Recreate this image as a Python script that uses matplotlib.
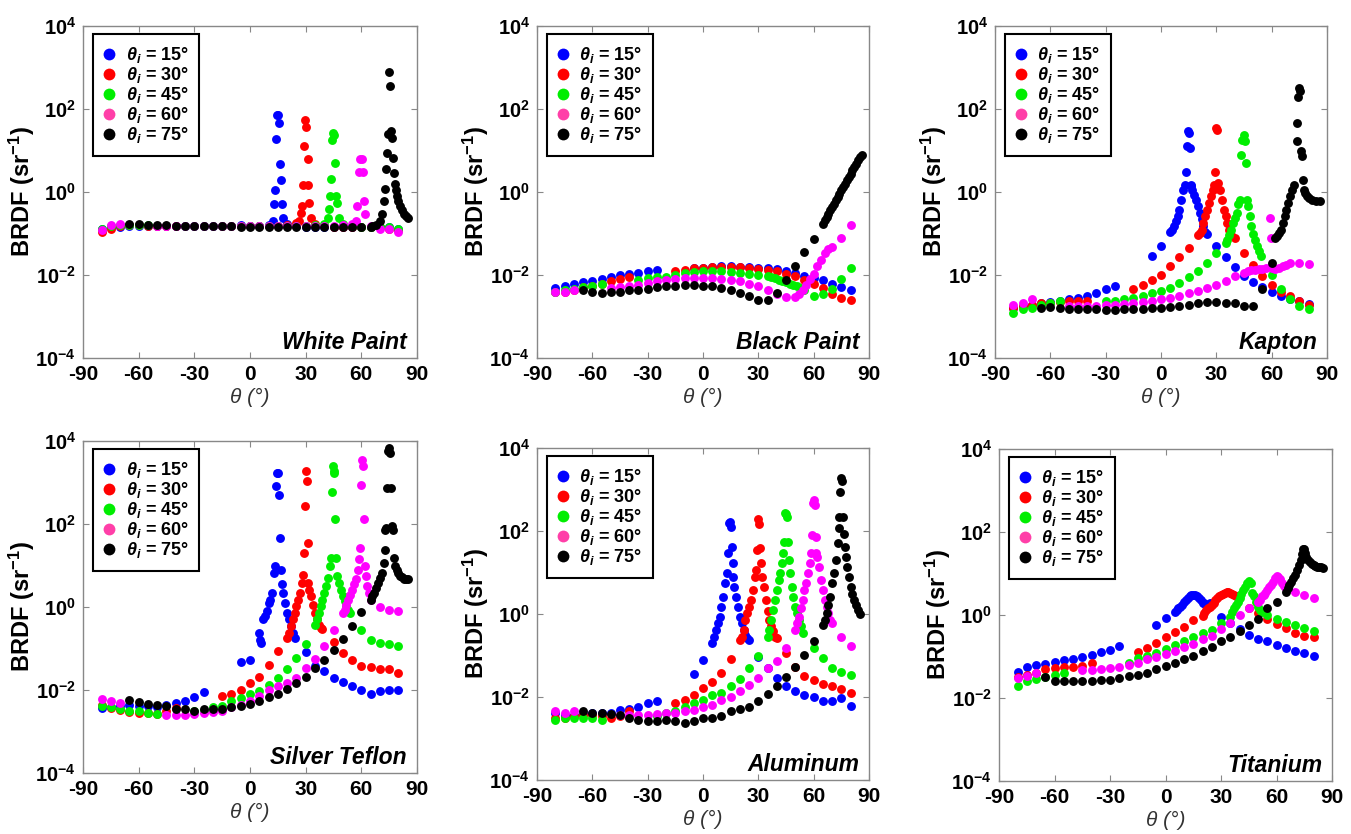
import matplotlib
matplotlib.use("Agg")
import matplotlib.pyplot as plt
from matplotlib.lines import Line2D
from matplotlib.ticker import FixedLocator, FixedFormatter, NullLocator

plt.rcParams['font.family'] = ['Liberation Sans', 'DejaVu Sans']
plt.rcParams['mathtext.fontset'] = 'custom'
plt.rcParams['mathtext.rm'] = 'Liberation Sans:bold'
plt.rcParams['mathtext.it'] = 'Liberation Sans:bold:italic'
plt.rcParams['mathtext.bf'] = 'Liberation Sans:bold'

# ---------------- White Paint ----------------
wp_x15 = [-80,-75,-70,-65,-60,-55,-50,-45,-40,-35,-30,-25,-20,-15,-10,-5,0,5,10,
          12.6,13,13.5,14,14.4,15.3,15.8,16.2,16.6,17,17.6,
          20,25,30,35,40,45,50,55,60,65,70,75,80]
wp_y15 = [0.13,0.14,0.14,0.15,0.15,0.15,0.15,0.15,0.15,0.15,0.15,0.15,0.15,0.15,0.15,0.16,0.15,0.15,0.16,
          0.20,0.50,1.1,19,73,73,46,4.7,2.0,0.50,0.24,
          0.17,0.15,0.14,0.14,0.14,0.14,0.14,0.14,0.14,0.14,0.14,0.14,0.13]
wp_x30 = [-80,-75,-70,-65,-60,-55,-50,-45,-40,
          -15,-10,-5,0,5,10,15,20,25,
          26.6,27.3,27.9,28.8,29.2,29.7,30.2,31,31.5,32,32.8,
          35,40,45,50,55,60,65,70,75,80]
wp_y30 = [0.11,0.13,0.15,0.16,0.16,0.15,0.15,0.15,0.15,
          0.15,0.15,0.15,0.15,0.15,0.15,0.15,0.16,0.18,
          0.20,0.31,0.45,1.5,13,55,36,6.3,1.5,0.54,0.24,
          0.17,0.15,0.14,0.14,0.14,0.14,0.14,0.14,0.13,0.12]
wp_x45 = [-80,-75,-70,-65,-60,-55,
          -35,-30,-25,-20,-15,-10,-5,0,5,10,15,20,25,30,35,40,
          42.3,42.8,43.2,43.7,44.3,44.6,45.5,45.9,46.4,46.8,47.7,
          50,55,60,65,70,75,80]
wp_y45 = [0.13,0.15,0.16,0.16,0.16,0.16,
          0.15,0.15,0.15,0.15,0.15,0.15,0.15,0.15,0.15,0.15,0.15,0.15,0.15,0.15,0.16,0.17,
          0.23,0.39,0.8,2.1,18,26,24,5.0,0.8,0.54,0.23,
          0.17,0.15,0.14,0.14,0.14,0.14,0.13]
wp_x60 = [-80,-75,-70,
          -50,-45,-40,-35,-30,-25,-20,-15,-10,-5,0,5,10,15,20,25,30,35,40,45,50,55,
          57.2,57.9,59,59.4,60.3,60.8,61.5,62.1,
          65,70,75,80]
wp_y60 = [0.12,0.16,0.17,
          0.15,0.15,0.15,0.15,0.15,0.15,0.15,0.15,0.15,0.15,0.15,0.15,0.15,0.15,0.15,0.15,0.15,0.15,0.15,0.15,0.16,0.17,
          0.20,0.45,3.0,6.3,6.3,3.0,0.6,0.3,
          0.15,0.13,0.13,0.11]
wp_x75 = [-65,-60,-55,-50,-45,-40,-35,-30,-25,-20,-15,-10,-5,0,5,10,15,20,25,30,35,40,45,50,55,60,65,
          66,68,70,71,72,73,73.5,74,74.5,75,75.5,76,76.5,77,77.5,78,78.5,79,80,81,82,83,84,85]
wp_y75 = [0.17,0.17,0.16,0.16,0.16,0.15,0.15,0.15,0.15,0.15,0.15,0.15,0.14,0.14,0.14,0.14,0.14,0.14,0.14,0.14,0.14,0.14,0.14,0.14,0.14,0.14,0.14,
          0.15,0.16,0.20,0.30,0.60,1.2,3.5,8.5,25,800,350,30,20,6.5,2.9,1.6,1.1,0.8,0.6,0.45,0.36,0.3,0.26,0.23]

# ---------------- Black Paint ----------------
bp_x15 = [-80,-75,-70,-65,-60,-55,-50,-45,-40,-35,-30,-25,
          -5,0,5,10,15,20,25,30,35,40,45,50,55,60,65,70,75,80]
bp_y15 = [0.0048,0.0055,0.0062,0.0066,0.0072,0.0079,0.0089,0.0100,0.0107,0.0112,0.0123,0.0129,
          0.0145,0.0151,0.0158,0.0162,0.0162,0.0158,0.0155,0.0148,0.0145,0.0138,0.0128,0.0112,0.0095,0.0085,0.0074,0.0062,0.0051,0.0043]
bp_x30 = [-80,-75,-70,-65,-60,-55,-50,-45,-40,
          -15,-10,-5,0,5,10,15,20,25,30,35,40,45,50,55,60,65,70,75,80]
bp_y30 = [0.0038,0.0040,0.0044,0.0051,0.0055,0.0062,0.0071,0.0080,0.0089,
          0.0123,0.0134,0.0144,0.0148,0.0152,0.0155,0.0155,0.0152,0.0144,0.0139,0.0134,0.0123,0.0107,0.0096,0.0077,0.0062,0.0048,0.0035,0.0028,0.0025]
bp_x45 = [-80,-75,-70,-65,-60,-55,
          -35,-30,-25,-20,-15,-10,-5,0,5,10,15,20,25,30,35,
          37,39,41,43,45,47,49,51,53,55,
          60,65,70,75,80]
bp_y45 = [0.0040,0.0044,0.0046,0.0051,0.0055,0.0062,
          0.0077,0.0085,0.0089,0.0092,0.0101,0.0112,0.0116,0.0123,0.0123,0.0123,0.0116,0.0112,0.0107,0.0101,0.0096,
          0.0089,0.0083,0.0077,0.0071,0.0067,0.0062,0.0057,0.0053,0.0048,0.0043,
          0.0032,0.0035,0.0046,0.0080,0.0148]
bp_x60 = [-80,-75,-70,
          -50,-45,-40,-35,-30,-25,-20,-15,-10,-5,0,5,10,15,20,25,30,35,40,45,50,
          52,54,56,58,60,62,64,66,68,70,
          75,80]
bp_y60 = [0.0038,0.0039,0.0043,
          0.0049,0.0052,0.0053,0.0057,0.0064,0.0071,0.0074,0.0080,0.0085,0.0085,0.0085,0.0085,0.0080,0.0077,0.0071,0.0062,0.0055,0.0043,0.0034,0.0030,0.0029,
          0.0034,0.0044,0.0058,0.0080,0.0107,0.0161,0.0234,0.033,0.042,0.047,
          0.078,0.158]
bp_x75 = [-65,-60,-55,-50,-45,-40,-35,-30,-25,-20,-15,-10,-5,0,5,10,15,20,25,30,35,40,45,50,55,60,
          65,66,67,68,69,70,71,72,73,74,75,76,77,78,79,80,81,82,83,84,85,86]
bp_y75 = [0.0044,0.0040,0.0037,0.0038,0.0040,0.0043,0.0044,0.0046,0.0051,0.0053,0.0055,0.0057,0.0056,0.0055,0.0053,0.0048,0.0043,0.0037,0.0032,0.0025,0.0025,0.0037,0.0077,0.0166,0.036,0.075,
          0.17,0.21,0.25,0.30,0.36,0.44,0.52,0.63,0.76,0.91,1.10,1.32,1.58,1.9,2.3,2.75,3.3,4.0,4.8,5.75,6.9,7.6]

# ---------------- Kapton ----------------
kp_x15 = [-80,-75,-70,-65,-60,-55,-50,-45,-40,-35,-30,-25,
          -5,0,5,6,7,8,9,10,11,12,13,13.5,14,14.5,15,15.5,16,16.5,17,18,19,20,21,22,23,24,25,
          30,35,40,45,50,55,60,65,70,75,80]
kp_y15 = [0.0016,0.0018,0.0019,0.0021,0.0022,0.0023,0.0026,0.0028,0.0032,0.0037,0.0045,0.0055,
          0.028,0.049,0.11,0.12,0.15,0.20,0.26,0.37,0.65,1.14,1.5,3.1,12.6,29,26,11.5,1.5,1.37,1.14,0.86,0.65,0.45,0.31,0.22,0.15,0.11,0.10,
          0.049,0.027,0.0154,0.0097,0.0067,0.0052,0.0040,0.0031,0.0027,0.0023,0.0020]
kp_x30 = [-80,-75,-70,-65,-60,-55,-50,-45,-40,
          -15,-10,-5,0,5,10,15,20,21,22,23,24,25,26,27,28,29,29.5,30,30.5,31,32,33,34,35,36,37,38,
          40,45,50,55,60,65,70,75,80]
kp_y30 = [0.0016,0.0018,0.0019,0.0021,0.0021,0.0022,0.0023,0.0023,0.0023,
          0.0046,0.0059,0.0075,0.0102,0.0162,0.027,0.045,0.094,0.103,0.124,0.18,0.26,0.37,0.54,0.79,1.14,1.5,3.1,35,32,1.65,1.14,0.65,0.37,0.26,0.18,0.124,0.094,
          0.078,0.033,0.017,0.0093,0.0059,0.0038,0.0031,0.0023,0.0019]
kp_x45 = [-80,-75,-70,-65,-60,-55,
          -30,-25,-20,-15,-10,-5,0,5,10,15,20,25,30,35,
          36,37,38,39,40,41,42,43,
          43.5,44,45,45.5,46,46.5,
          47,48,49,50,51,52,53,54,
          60,65,70,75,80]
kp_y45 = [0.0012,0.0015,0.0016,0.0019,0.0021,0.0023,
          0.0023,0.0023,0.0026,0.0028,0.0032,0.0037,0.0041,0.0049,0.0064,0.0090,0.0123,0.0195,0.033,0.059,
          0.071,0.094,0.124,0.18,0.24,0.31,0.50,0.65,
          7.9,18,24,16.5,5.0,0.65,
          0.45,0.26,0.15,0.10,0.071,0.049,0.037,0.029,
          0.0102,0.0045,0.0026,0.0018,0.0015]
kp_x60 = [-80,-75,-70,
          -50,-45,-40,-35,-30,-25,-20,-15,-10,-5,0,5,10,15,20,25,30,35,40,45,
          47,49,51,53,55,57,59,59.5,60,62,64,66,68,70,
          75,80]
kp_y60 = [0.0019,0.0021,0.0026,
          0.0018,0.0018,0.0018,0.0018,0.0019,0.0019,0.0020,0.0021,0.0022,0.0023,0.0026,0.0028,0.0032,0.0037,0.0042,0.0049,0.0059,0.0071,0.0097,0.0112,
          0.0123,0.0130,0.0135,0.0140,0.0140,0.0148,0.24,0.078,0.0148,0.0140,0.0148,0.0162,0.0178,0.0195,
          0.0195,0.0187]
kp_x75 = [-65,-60,-55,-50,-45,-40,-35,-30,-25,-20,-15,-10,-5,0,5,10,15,20,25,30,35,40,45,50,55,60,
          62,63,64,65,66,67,68,69,70,71,72,
          73.5,74,74.5,75,75.5,76,76.5,77,77.5,78,
          79,80,82,84,86]
kp_y75 = [0.0016,0.0017,0.0016,0.0015,0.0015,0.0015,0.0015,0.0014,0.0014,0.0015,0.0015,0.0015,0.0016,0.0016,0.0017,0.0018,0.0019,0.0021,0.0022,0.0022,0.0021,0.0021,0.0018,0.0018,0.0045,0.0195,
          0.078,0.086,0.103,0.124,0.18,0.26,0.37,0.54,0.79,1.14,1.5,
          16.5,46,200,320,265,9.5,7.2,2.0,1.14,0.95,
          0.79,0.72,0.65,0.62,0.60]

# ---------------- Silver Teflon ----------------
st_x15 = [-80,-75,-70,-65,-60,-55,-50,-45,-40,-35,-30,-25,
          -5,0,5,5.5,6,7,8,9,10,11,12,13,13.5,
          14,14.5,15,15.5,16,16.5,17,
          18,19,20,21,22,23,24,
          30,35,40,45,50,55,60,65,70,75,80]
st_y15 = [0.0037,0.0040,0.0042,0.0044,0.0042,0.0042,0.0040,0.0044,0.0048,0.0053,0.0068,0.0088,
          0.046,0.052,0.24,0.16,0.135,0.50,0.60,0.79,1.25,1.5,2.2,6.6,9.6,
          810,1700,1650,510,46,8.0,3.5,
          2.2,1.25,0.72,0.50,0.34,0.24,0.18,
          0.081,0.037,0.028,0.020,0.016,0.0126,0.0102,0.0081,0.0093,0.0102,0.0102]
st_x30 = [-80,-75,-70,-65,-60,-55,-50,-45,-40,
          -15,-10,-5,0,5,10,15,20,
          21,22,23,24,25,26,27,28,
          28.5,29,29.5,30,30.5,31,31.5,
          32,33,34,35,36,37,38,39,
          45,50,55,60,65,70,75,80]
st_y30 = [0.0044,0.0037,0.0033,0.0029,0.0028,0.0028,0.0027,0.0031,0.0037,
          0.0071,0.0081,0.0098,0.0147,0.021,0.041,0.085,0.18,
          0.24,0.34,0.50,0.72,1.04,1.5,2.2,3.8,
          6.0,20,270,1870,1100,34,3.8,
          2.6,1.8,1.14,0.72,0.50,0.37,0.31,0.30,
          0.14,0.078,0.054,0.037,0.036,0.032,0.032,0.026]
st_x45 = [-80,-75,-70,-65,-60,-55,-50,
          -30,-25,-20,-15,-10,-5,0,5,10,15,20,25,30,
          35,36,37,38,39,40,41,42,43,
          43.5,44,44.5,45,45.5,46,46.5,
          47,48,49,50,51,52,53,54,
          60,65,70,75,80]
st_y45 = [0.0042,0.0039,0.0035,0.0032,0.0031,0.0028,0.0027,
          0.0031,0.0032,0.0039,0.0042,0.0053,0.0064,0.0081,0.0093,0.0134,0.020,0.032,0.059,0.13,
          0.37,0.50,0.72,1.04,1.5,2.2,3.2,5.0,9.6,
          15,590,2450,1870,1700,132,15,
          5.5,3.8,2.6,1.8,1.37,1.04,0.86,0.72,
          0.28,0.16,0.135,0.13,0.117]
st_x60 = [-80,-75,-70,
          -45,-40,-35,-30,-25,-20,-15,-10,-5,0,5,10,15,20,25,30,35,40,45,
          50,51,52,53,54,55,56,57,58,59,
          59.5,60,60.5,61,61.5,62,62.5,
          63,64,65,
          70,75,80]
st_y60 = [0.0060,0.0053,0.0048,
          0.0025,0.0025,0.0025,0.0027,0.0028,0.0029,0.0031,0.0039,0.0044,0.0053,0.0071,0.0098,0.0122,0.0147,0.0194,0.034,0.056,0.112,0.28,
          0.72,0.86,1.14,1.5,2.0,2.6,3.5,4.6,8.0,14,
          26,890,3550,2450,130,9.6,5.5,
          3.2,2.2,1.5,
          1.0,0.86,0.79]
st_x75 = [-65,-60,-55,-50,-45,-40,-35,-30,-25,-20,-15,-10,-5,0,5,10,15,20,25,30,35,40,45,50,55,60,
          65,66,67,68,69,70,71,72,
          72.5,73,73.5,74,74.5,75,75.5,76,76.5,77,77.5,
          78,79,80,81,82,83,84,85]
st_y75 = [0.0056,0.0050,0.0047,0.0044,0.0042,0.0035,0.0034,0.0032,0.0034,0.0034,0.0035,0.0039,0.0042,0.0047,0.0053,0.0068,0.0081,0.0106,0.0147,0.021,0.034,0.054,0.093,0.17,0.34,0.74,
          1.5,1.8,2.2,2.9,3.8,5.0,6.6,11.5,
          24,73,80,740,5600,6800,5200,740,89,73,15,
          9.6,8.0,6.6,5.5,5.3,4.7,4.6,4.6]

# ---------------- Aluminum ----------------
al_x15 = [-80,-75,-70,-65,-60,-55,-50,-45,-40,-35,-30,-25,
          -5,0,5,6,7,8,9,10,11,12,13,13.5,14,14.5,15,15.5,16,16.5,17,18,19,20,21,22,23,24,25,
          30,35,40,45,50,55,60,65,70,75,80]
al_y15 = [0.0041,0.0037,0.0037,0.0039,0.0041,0.0041,0.0042,0.0049,0.0051,0.0059,0.0071,0.0082,
          0.036,0.078,0.20,0.28,0.41,0.60,0.86,1.5,2.6,5.5,9.5,29,152,168,126,42,16.6,7.9,4.5,2.6,1.5,0.86,0.60,0.41,0.31,0.26,0.24,
          0.090,0.049,0.028,0.018,0.014,0.0112,0.0098,0.0078,0.0078,0.0093,0.0060]
al_x30 = [-80,-75,-70,-65,-60,-55,-50,-45,-40,
          -15,-10,-5,0,5,10,15,20,
          21,22,23,24,25,26,27,28,29,
          29.5,30,30.5,31,31.5,
          32,33,34,35,36,37,38,39,40,
          45,50,55,60,65,70,75,80]
al_y30 = [0.0031,0.0031,0.0034,0.0037,0.0037,0.0034,0.0031,0.0034,0.0045,
          0.0071,0.0085,0.0112,0.0162,0.0234,0.037,0.081,0.23,
          0.28,0.41,0.72,1.04,1.5,2.2,3.8,7.9,11.5,
          35,190,150,38,16.6,
          7.9,4.5,2.2,1.2,0.72,0.50,0.38,0.28,0.26,
          0.113,0.054,0.032,0.026,0.021,0.018,0.0154,0.0128]
al_x45 = [-80,-75,-70,-65,-60,-55,
          -25,-20,-15,-10,-5,0,5,10,15,20,25,30,
          35,36,37,38,39,40,41,42,43,43.5,44,
          44.5,45,45.5,46,46.5,47,
          48,49,50,51,52,53,54,
          60,65,70,75,80]
al_y45 = [0.0028,0.0031,0.0032,0.0032,0.0031,0.0028,
          0.0035,0.0041,0.0045,0.0057,0.0071,0.0085,0.0112,0.0128,0.018,0.027,0.049,0.097,
          0.28,0.41,0.72,1.25,2.2,3.8,6.6,9.5,16.6,29,55,
          265,255,220,55,20,9.5,
          4.5,2.6,1.5,1.04,0.72,0.50,0.34,
          0.15,0.086,0.049,0.041,0.034]
al_x60 = [-80,-75,-70,
          -45,-40,-35,-30,-25,-20,-15,-10,-5,0,5,10,15,20,25,30,35,40,45,
          50,51,52,53,54,55,56,57,58,58.5,59,
          59.5,60,60.5,61,61.5,
          62,63,64,65,66,67,68,69,70,
          75,80]
al_y60 = [0.0045,0.0041,0.0047,
          0.0037,0.0037,0.0037,0.0037,0.0039,0.0041,0.0042,0.0045,0.0049,0.0057,0.0065,0.0085,0.0102,0.0141,0.0195,0.028,0.049,0.075,0.155,
          0.41,0.60,0.86,1.37,2.2,3.8,5.5,9.5,16.6,29,80,
          460,550,420,73,29,
          24,13.8,6.6,3.8,2.2,1.5,1.04,0.72,0.60,
          0.28,0.17]
al_x75 = [-65,-60,-55,-50,-45,-40,-35,-30,-25,-20,-15,-10,-5,0,5,10,15,20,25,30,35,40,45,50,55,60,
          65,66,67,68,69,70,71,72,73,
          73.5,74,74.5,75,75.5,76,76.5,77,77.5,78,
          79,80,81,82,83,84,85]
al_y75 = [0.0045,0.0042,0.0041,0.0039,0.0037,0.0031,0.0028,0.0027,0.0027,0.0028,0.0026,0.0023,0.0026,0.0031,0.0031,0.0034,0.0047,0.0051,0.0059,0.0078,0.0119,0.018,0.030,0.052,0.103,0.22,
          0.54,0.72,1.04,1.65,2.6,5.5,9.5,20,50,
          115,220,890,1860,1600,220,87,42,24,13.8,
          7.9,4.5,3.1,2.2,1.65,1.25,1.0]

# ---------------- Titanium ----------------
ti_x15 = [-80,-75,-70,-65,-60,-55,-50,-45,-40,-35,-30,-25,
          -5,0,5,6,7,8,9,10,11,12,13,14,15,16,17,18,19,20,21,22,23,24,
          30,35,40,45,50,55,60,65,70,75,80]
ti_y15 = [0.043,0.057,0.063,0.066,0.075,0.082,0.087,0.095,0.109,0.131,0.143,0.182,
          0.57,0.83,1.2,1.32,1.45,1.59,1.74,2.1,2.3,2.5,2.8,3.0,3.0,3.0,2.8,2.5,2.3,2.0,1.9,1.74,1.74,1.9,
          0.91,0.63,0.45,0.33,0.27,0.24,0.19,0.157,0.138,0.124,0.103]
ti_x30 = [-80,-75,-70,-65,-60,-55,-50,-45,-40,
          -15,-10,-5,0,5,10,15,20,
          21,22,23,24,25,26,27,28,29,30,31,32,33,34,35,36,37,38,
          45,50,55,60,65,70,75,80]
ti_y30 = [0.032,0.036,0.041,0.049,0.052,0.055,0.057,0.059,0.068,
          0.131,0.163,0.216,0.29,0.38,0.50,0.76,0.95,
          1.1,1.32,1.45,1.59,1.74,2.0,2.3,2.5,2.8,3.0,3.2,3.45,3.65,3.65,3.45,3.2,3.0,2.8,
          1.45,1.14,0.79,0.61,0.48,0.37,0.31,0.29]
ti_x45 = [-80,-75,-70,-65,-60,-55,
          -20,-15,-10,-5,0,5,10,15,20,25,30,35,
          36,37,38,39,40,41,42,43,44,45,46,47,48,49,50,51,52,
          55,60,65,70,75,80]
ti_y45 = [0.020,0.026,0.028,0.032,0.036,0.041,
          0.068,0.090,0.103,0.124,0.149,0.19,0.24,0.29,0.36,0.44,0.63,0.91,
          1.2,1.45,1.74,2.1,2.5,3.2,4.0,4.8,5.8,6.7,5.8,3.3,2.8,2.1,1.6,1.3,1.2,
          1.0,0.79,0.69,0.57,0.48,0.41]
ti_x60 = [-80,-75,-70,
          -45,-40,-35,-30,-25,-20,-15,-10,-5,0,5,10,15,20,25,30,35,40,45,
          50,51,52,53,54,55,56,57,58,59,60,61,62,63,64,65,
          70,75,80]
ti_y60 = [0.030,0.034,0.039,
          0.046,0.046,0.049,0.052,0.057,0.062,0.071,0.086,0.096,0.115,0.138,0.166,0.20,0.26,0.31,0.45,0.65,1.0,1.45,
          2.1,2.3,2.8,3.0,3.45,4.0,4.6,5.3,6.3,7.6,8.7,8.4,7.2,6.0,5.0,4.4,
          3.65,3.0,2.5]
ti_x75 = [-65,-60,-55,-50,-45,-40,-35,-30,-25,-20,-15,-10,-5,0,5,10,15,20,25,30,35,40,45,50,55,60,
          65,66,67,68,69,70,71,72,73,74,
          74.5,75,75.5,76,
          77,78,79,80,81,82,83,84,85]
ti_y75 = [0.032,0.026,0.026,0.025,0.026,0.026,0.027,0.027,0.030,0.034,0.036,0.041,0.049,0.059,0.068,0.086,0.103,0.138,0.173,0.23,0.30,0.41,0.57,0.79,1.45,2.1,
          3.65,4.4,5.3,6.3,7.6,9.2,12.1,16,21,30,
          40,40,32,25,
          21,19,17,16,15,14.6,14.6,14,13.3]

material_names = ["White Paint", "Black Paint", "Kapton", "Silver Teflon", "Aluminum", "Titanium"]
incident_angles = [15, 30, 45, 60, 75]
y_ticks = [1e-4, 1e-2, 1e0, 1e2, 1e4]
y_tick_labels = [r"$10^{-4}$", r"$10^{-2}$", r"$10^{0}$", r"$10^{2}$", r"$10^{4}$"]
x_ticks = [-90, -60, -30, 0, 30, 60, 90]
x_tick_labels = ["-90", "-60", "-30", "0", "30", "60", "90"]

panels = [
    [(wp_x15, wp_y15), (wp_x30, wp_y30), (wp_x45, wp_y45), (wp_x60, wp_y60), (wp_x75, wp_y75)],
    [(bp_x15, bp_y15), (bp_x30, bp_y30), (bp_x45, bp_y45), (bp_x60, bp_y60), (bp_x75, bp_y75)],
    [(kp_x15, kp_y15), (kp_x30, kp_y30), (kp_x45, kp_y45), (kp_x60, kp_y60), (kp_x75, kp_y75)],
    [(st_x15, st_y15), (st_x30, st_y30), (st_x45, st_y45), (st_x60, st_y60), (st_x75, st_y75)],
    [(al_x15, al_y15), (al_x30, al_y30), (al_x45, al_y45), (al_x60, al_y60), (al_x75, al_y75)],
    [(ti_x15, ti_y15), (ti_x30, ti_y30), (ti_x45, ti_y45), (ti_x60, ti_y60), (ti_x75, ti_y75)],
]

colors = ['#0000ff', '#ff0000', '#00ee00', '#ff00ff', '#000000']
legend_colors = ['#0000ff', '#ff0000', '#00ee00', '#ff3fa8', '#000000']

W, H = 1351, 834
boxes = [(83, 26, 417, 358), (537, 26, 869, 358), (995, 26, 1327, 358),
         (83, 441, 417, 773), (537, 448, 869, 780), (999, 449, 1332, 781)]

fig = plt.figure(figsize=(W / 100, H / 100), dpi=100)
for name, series, (x0, y0, x1, y1) in zip(material_names, panels, boxes):
    ax = fig.add_axes([x0 / W, 1 - y1 / H, (x1 - x0) / W, (y1 - y0) / H])
    for (xs, ys), c in zip(series, colors):
        ax.plot(xs, ys, 'o', color=c, ms=6.4, mew=0, ls='none')
    ax.set_yscale('log')
    ax.set_xlim(-90, 90)
    ax.set_ylim(1e-4, 1e4)
    ax.yaxis.set_major_locator(FixedLocator(y_ticks))
    ax.yaxis.set_major_formatter(FixedFormatter(y_tick_labels))
    ax.yaxis.set_minor_locator(NullLocator())
    ax.xaxis.set_major_locator(FixedLocator(x_ticks))
    ax.xaxis.set_major_formatter(FixedFormatter(x_tick_labels))
    ax.tick_params(direction='in', top=True, right=True, length=4, width=0.8,
                   color='#888888', pad=5)
    ax.tick_params(axis='x', labelsize=15)
    ax.tick_params(axis='y', labelsize=14.5)
    for lab in ax.get_xticklabels():
        lab.set_fontweight('bold')
    for sp in ax.spines.values():
        sp.set_color('#888888')
        sp.set_linewidth(1.0)
    ax.set_ylabel(r"BRDF (sr$^{-1}$)", fontsize=17, fontweight='bold')
    ax.yaxis.set_label_coords(-0.138, 0.5)
    ax.set_xlabel("θ (°)", fontsize=15, fontstyle='italic', color='#333333')
    ax.xaxis.set_label_coords(0.5, -0.09)
    ax.xaxis.label.set_va('top')
    ax.text(0.97, 0.027, name, transform=ax.transAxes, ha='right', va='baseline',
            fontsize=16.5, fontweight='bold', fontstyle='italic')
    handles = [Line2D([], [], marker='o', ls='none', color=c, ms=8.5, mew=0) for c in legend_colors]
    labels = [r"$\theta_i$ = %d°" % a for a in incident_angles]
    leg = ax.legend(handles, labels, loc='upper left', bbox_to_anchor=(10 / 334, 1 - 8 / 332),
                    borderaxespad=0, frameon=True, fancybox=False, edgecolor='black',
                    framealpha=1, prop={'weight': 'bold', 'size': 13},
                    handlelength=0.6, handletextpad=0.6, labelspacing=0.0, borderpad=0.6)
    leg.get_frame().set_linewidth(1.5)

fig.savefig("out.png", dpi=100)
